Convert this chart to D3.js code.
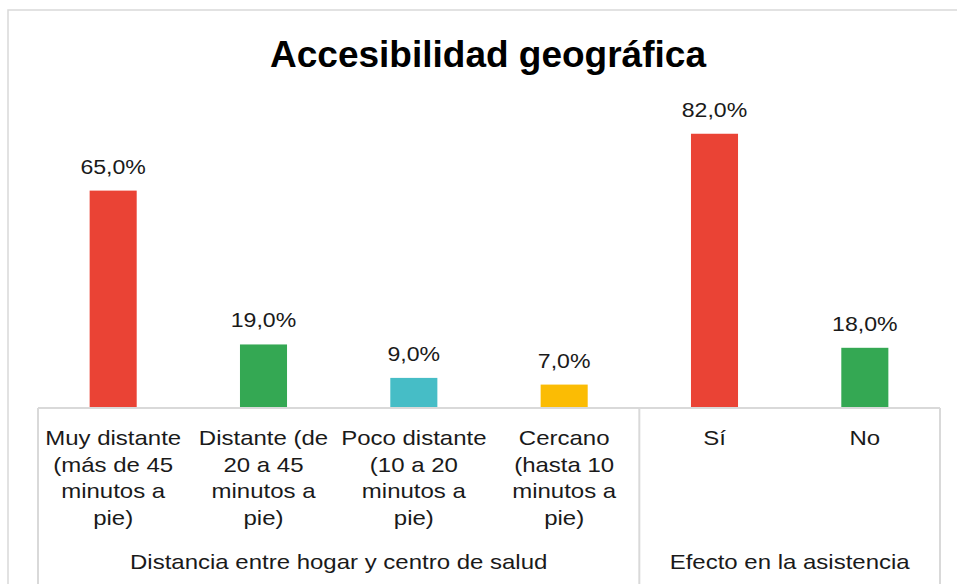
<!DOCTYPE html>
<html>
<head>
<meta charset="utf-8">
<script src="https://cdn.jsdelivr.net/npm/d3@7"></script>
<style>
body { margin: 0; background: white; }
text { font-family: "Liberation Sans", Arial, sans-serif; fill: #1a1a1a; }
.title { font-weight: bold; font-size: 37px; fill: black; }
.frame { fill: none; stroke: #d9d9d9; stroke-width: 1.5px; }
.tick-line { stroke: #d9d9d9; stroke-width: 2px; }
</style>
</head>
<body>
<svg width="957" height="584"></svg>
<script>
// chart data
var categories = [
  ["Muy distante", "(más de 45", "minutos a", "pie)"],
  ["Distante (de", "20 a 45", "minutos a", "pie)"],
  ["Poco distante", "(10 a 20", "minutos a", "pie)"],
  ["Cercano", "(hasta 10", "minutos a", "pie)"],
  ["Sí"],
  ["No"]
];
var values = [65, 19, 9, 7, 82, 18];
var barColors = ["#ea4335", "#34a853", "#46bdc6", "#fbbc04", "#ea4335", "#34a853"];
var groups = ["Distancia entre hogar y centro de salud", "Efecto en la asistencia"];
var groupSizes = [4, 2];

var svg = d3.select("svg");
var left = 38, right = 940, base = 408;

// outer frame
svg.append("rect").attr("class", "frame")
  .attr("x", 8).attr("y", 10).attr("width", 970).attr("height", 600);

svg.append("text").attr("class", "title")
  .attr("x", 488).attr("y", 67)
  .attr("text-anchor", "middle")
  .text("Accesibilidad geográfica");

var idx = d3.range(values.length);
var x = d3.scaleBand().domain(idx).range([left, right])
  .paddingInner(0.687).paddingOuter(0.3435);
var y = d3.scaleLinear().domain([0, 90]).range([base, 107]);
var step = x.step();

// bars
svg.selectAll("rect.bar").data(idx).enter().append("rect")
  .attr("class", "bar")
  .attr("x", function(i){ return x(i); })
  .attr("y", function(i){ return y(values[i]); })
  .attr("width", x.bandwidth())
  .attr("height", function(i){ return base - y(values[i]); })
  .attr("fill", function(i){ return barColors[i]; });

// value labels
svg.selectAll("text.val").data(idx).enter().append("text")
  .attr("class", "val")
  .attr("transform", function(i){
    return "translate(" + (x(i) + x.bandwidth()/2) + "," + (y(values[i]) - 17) + ") scale(1.1,1)";
  })
  .attr("text-anchor", "middle")
  .style("font-size", "21px")
  .text(function(i){ return d3.format(".1f")(values[i]).replace(".", ",") + "%"; });

// axis lines
svg.append("line").attr("class", "tick-line")
  .attr("x1", left).attr("x2", right).attr("y1", base).attr("y2", base);
var bounds = [0];
groupSizes.forEach(function(n){ bounds.push(bounds[bounds.length-1] + n); });
bounds.forEach(function(b){
  var xx = left + step * b;
  svg.append("line").attr("class", "tick-line")
    .attr("x1", xx).attr("x2", xx).attr("y1", base).attr("y2", 584);
});

// category labels
idx.forEach(function(i){
  var t = svg.append("text")
    .attr("transform", "translate(" + (x(i) + x.bandwidth()/2) + ",445) scale(1.2,1)")
    .attr("text-anchor", "middle")
    .style("font-size", "20px");
  categories[i].forEach(function(line, k){
    t.append("tspan").attr("x", 0).attr("y", k * 26.7).text(line);
  });
});

// group labels
groups.forEach(function(g, j){
  var cx = left + step * (bounds[j] + bounds[j+1]) / 2;
  svg.append("text")
    .attr("transform", "translate(" + cx + ",569) scale(1.2,1)")
    .attr("text-anchor", "middle")
    .style("font-size", "20px")
    .text(g);
});
</script>
</body>
</html>
